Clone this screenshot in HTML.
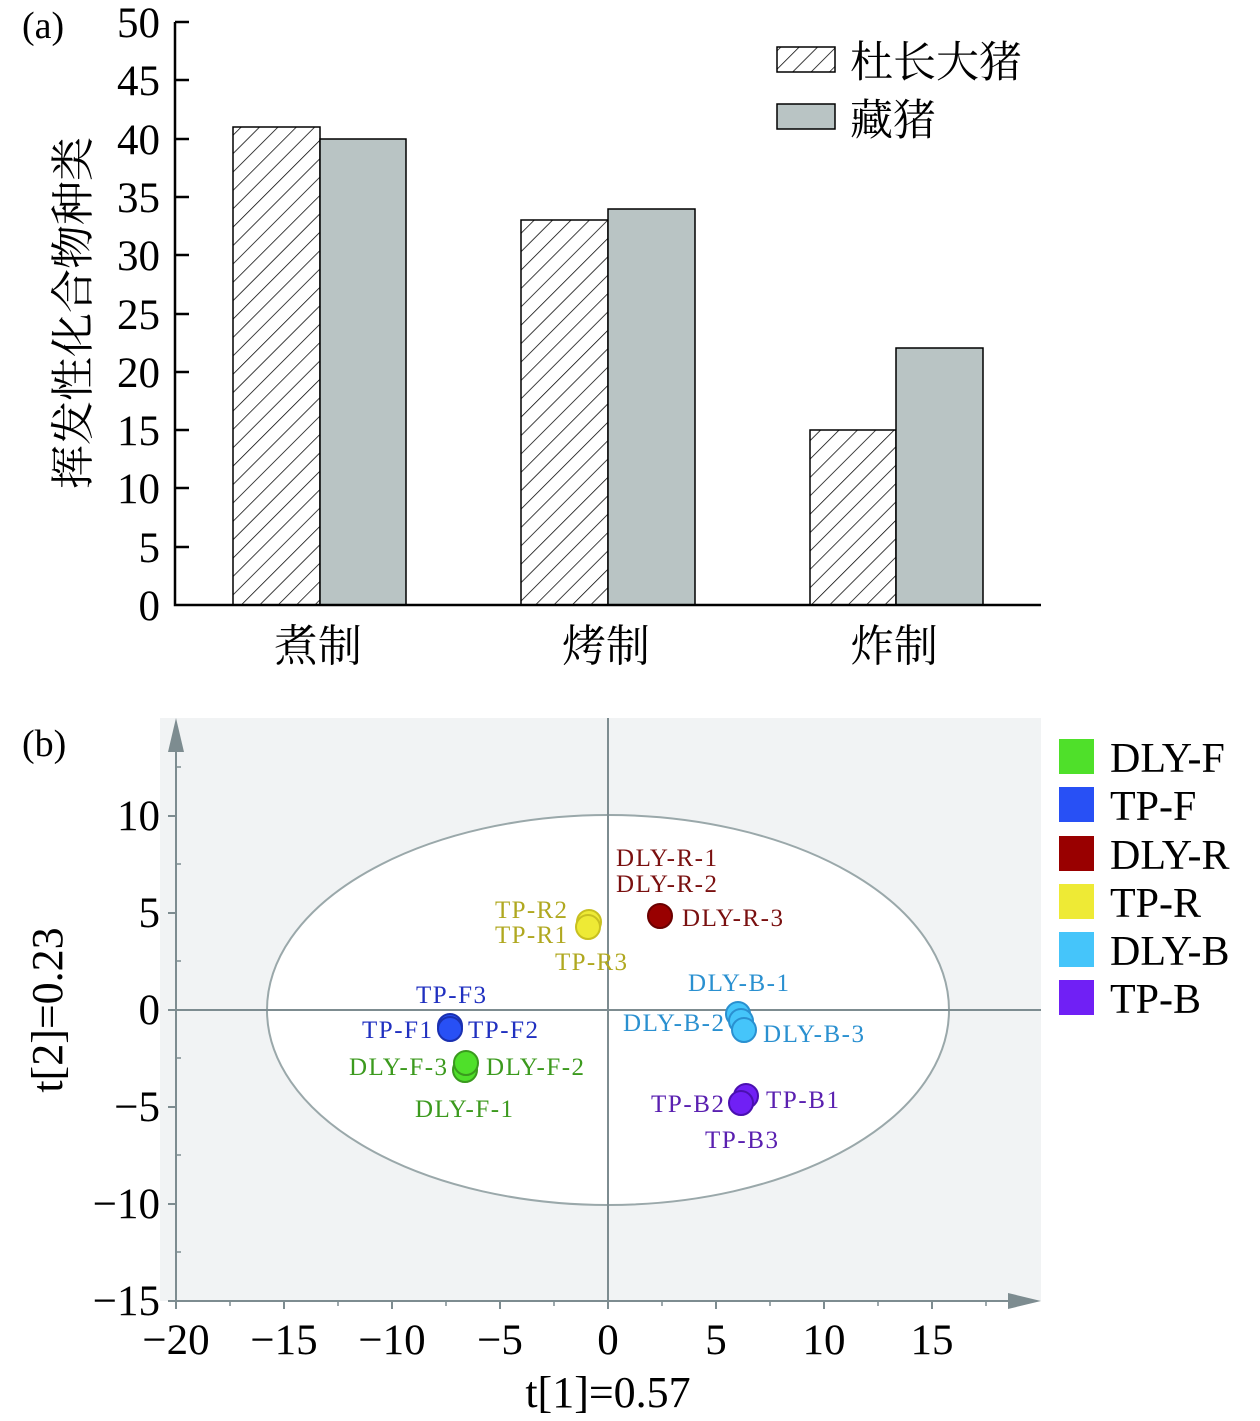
<!DOCTYPE html>
<html><head><meta charset="utf-8"><style>body{margin:0;background:#fff}svg{display:block}</style></head>
<body>
<svg width="1260" height="1421" viewBox="0 0 1260 1421" xmlns="http://www.w3.org/2000/svg" font-family="'Liberation Serif','Noto Serif CJK SC',serif">
<defs>
<pattern id="h" patternUnits="userSpaceOnUse" width="13" height="13" patternTransform="rotate(45)">
<rect width="13" height="13" fill="#fff"/><line x1="0" y1="0" x2="0" y2="13" stroke="#000" stroke-width="1.5"/>
</pattern>
</defs>
<!-- (a) -->
<text x="22" y="38" font-size="38">(a)</text>
<g stroke="#000" stroke-width="1.5">
<rect x="233" y="127" width="87" height="478" fill="url(#h)"/>
<rect x="320" y="139" width="86" height="466" fill="#b9c4c4"/>
<rect x="521" y="220" width="87" height="385" fill="url(#h)"/>
<rect x="608" y="209" width="87" height="396" fill="#b9c4c4"/>
<rect x="810" y="430" width="86" height="175" fill="url(#h)"/>
<rect x="896" y="348" width="87" height="257" fill="#b9c4c4"/>
</g>
<g stroke="#000" stroke-width="2.5" fill="none">
<path d="M175 22V605H1041"/>
<path d="M175 22h14M175 80h14M175 139h14M175 197h14M175 255h14M175 314h14M175 372h14M175 430h14M175 488h14M175 547h14"/>
</g>
<g font-size="43" text-anchor="end">
<text x="160" y="37">50</text><text x="160" y="95">45</text><text x="160" y="154">40</text><text x="160" y="212">35</text><text x="160" y="270">30</text><text x="160" y="329">25</text><text x="160" y="387">20</text><text x="160" y="445">15</text><text x="160" y="503">10</text><text x="160" y="562">5</text><text x="160" y="620">0</text>
</g>
<text transform="translate(88,313) rotate(-90)" font-size="44" text-anchor="middle">挥发性化合物种类</text>
<g font-size="44" text-anchor="middle">
<text x="318" y="661">煮制</text><text x="606" y="661">烤制</text><text x="894" y="661">炸制</text>
</g>
<rect x="777" y="47" width="58" height="25" fill="url(#h)" stroke="#000" stroke-width="1.5"/>
<rect x="777" y="104" width="58" height="25" fill="#b9c4c4" stroke="#000" stroke-width="1.5"/>
<text x="850" y="77" font-size="43">杜长大猪</text>
<text x="850" y="135" font-size="43">藏猪</text>
<!-- (b) -->
<rect x="160" y="718" width="881" height="583" fill="#f1f3f4"/>
<ellipse cx="608" cy="1010" rx="341" ry="195" fill="#fff" stroke="#9aa8aa" stroke-width="2"/>
<g stroke="#7d8c90" stroke-width="2" fill="none">
<path d="M176 735V1301H1015"/>
<path d="M608 718V1301M176 1010H1041"/>
<path d="M176 1301v8M284 1301v8M392 1301v8M500 1301v8M608 1301v8M716 1301v8M824 1301v8M932 1301v8"/>
<path d="M176 816h-8M176 913h-8M176 1010h-8M176 1107h-8M176 1204h-8M176 1301h-8"/>
<path d="M230 1301v5M338 1301v5M446 1301v5M554 1301v5M662 1301v5M770 1301v5M878 1301v5M986 1301v5" stroke-width="1.5"/>
<path d="M176 767h5M176 864h5M176 961h5M176 1058h5M176 1155h5M176 1252h5" stroke-width="1.5"/>
</g>
<path d="M176 718L168 752L184 752Z" fill="#7d8c90"/>
<path d="M1041 1301L1008 1293L1008 1309Z" fill="#7d8c90"/>
<g font-size="43" text-anchor="middle">
<text x="176" y="1354">−20</text><text x="284" y="1354">−15</text><text x="392" y="1354">−10</text><text x="500" y="1354">−5</text><text x="608" y="1354">0</text><text x="716" y="1354">5</text><text x="824" y="1354">10</text><text x="932" y="1354">15</text>
</g>
<g font-size="43" text-anchor="end">
<text x="160" y="830">10</text><text x="160" y="927">5</text><text x="160" y="1024">0</text><text x="160" y="1121">−5</text><text x="160" y="1218">−10</text><text x="160" y="1315">−15</text>
</g>
<text x="608" y="1407" font-size="44" text-anchor="middle">t[1]=0.57</text>
<text transform="translate(62,1010) rotate(-90)" font-size="44" text-anchor="middle">t[2]=0.23</text>
<text x="22" y="756" font-size="38">(b)</text>
<!-- points -->
<g stroke-width="2">
<circle cx="589" cy="922" r="12" fill="#eeea35" stroke="#c8c020"/>
<circle cx="588" cy="927" r="12" fill="#eeea35" stroke="#c8c020"/>
<circle cx="660" cy="916" r="12" fill="#990000" stroke="#6a0000"/>
<circle cx="450" cy="1026" r="12" fill="#2850f5" stroke="#1a30b0"/>
<circle cx="450" cy="1029" r="12" fill="#2850f5" stroke="#1a30b0"/>
<circle cx="465" cy="1070" r="12" fill="#4fe02a" stroke="#3a9a1e"/>
<circle cx="466" cy="1063" r="12" fill="#4fe02a" stroke="#3a9a1e"/>
<circle cx="738" cy="1014" r="12" fill="#45c5fa" stroke="#2a90d0"/>
<circle cx="741" cy="1021" r="12" fill="#45c5fa" stroke="#2a90d0"/>
<circle cx="744" cy="1030" r="12" fill="#45c5fa" stroke="#2a90d0"/>
<circle cx="746" cy="1096" r="12" fill="#7020f5" stroke="#4a10b0"/>
<circle cx="741" cy="1103" r="12" fill="#7020f5" stroke="#4a10b0"/>
</g>
<g font-size="25">
<text x="616" y="866" fill="#7a1010" textLength="101">DLY-R-1</text>
<text x="616" y="892" fill="#7a1010" textLength="101">DLY-R-2</text>
<text x="682" y="926" fill="#7a1010" textLength="101">DLY-R-3</text>
<text x="495" y="918" fill="#b0a820" textLength="72">TP-R2</text>
<text x="495" y="943" fill="#b0a820" textLength="72">TP-R1</text>
<text x="555" y="970" fill="#b0a820" textLength="72">TP-R3</text>
<text x="416" y="1003" fill="#2030c0" textLength="70">TP-F3</text>
<text x="362" y="1038" fill="#2030c0" textLength="70">TP-F1</text>
<text x="468" y="1038" fill="#2030c0" textLength="70">TP-F2</text>
<text x="349" y="1075" fill="#3c9a1e" textLength="98">DLY-F-3</text>
<text x="486" y="1075" fill="#3c9a1e" textLength="98">DLY-F-2</text>
<text x="415" y="1117" fill="#3c9a1e" textLength="98">DLY-F-1</text>
<text x="688" y="991" fill="#2a90d0" textLength="101">DLY-B-1</text>
<text x="623" y="1031" fill="#2a90d0" textLength="101">DLY-B-2</text>
<text x="763" y="1042" fill="#2a90d0" textLength="101">DLY-B-3</text>
<text x="766" y="1108" fill="#5a20b0" textLength="73">TP-B1</text>
<text x="651" y="1112" fill="#5a20b0" textLength="73">TP-B2</text>
<text x="705" y="1148" fill="#5a20b0" textLength="73">TP-B3</text>
</g>
<!-- legend -->
<rect x="1059" y="739" width="35" height="35" fill="#4fe02a"/>
<rect x="1059" y="787" width="35" height="35" fill="#2850f5"/>
<rect x="1059" y="836" width="35" height="35" fill="#990000"/>
<rect x="1059" y="884" width="35" height="35" fill="#eeea35"/>
<rect x="1059" y="932" width="35" height="35" fill="#45c5fa"/>
<rect x="1059" y="980" width="35" height="35" fill="#7020f5"/>
<g font-size="42">
<text x="1110" y="772">DLY-F</text>
<text x="1110" y="820">TP-F</text>
<text x="1110" y="869">DLY-R</text>
<text x="1110" y="917">TP-R</text>
<text x="1110" y="965">DLY-B</text>
<text x="1110" y="1013">TP-B</text>
</g>
</svg>
</body></html>
